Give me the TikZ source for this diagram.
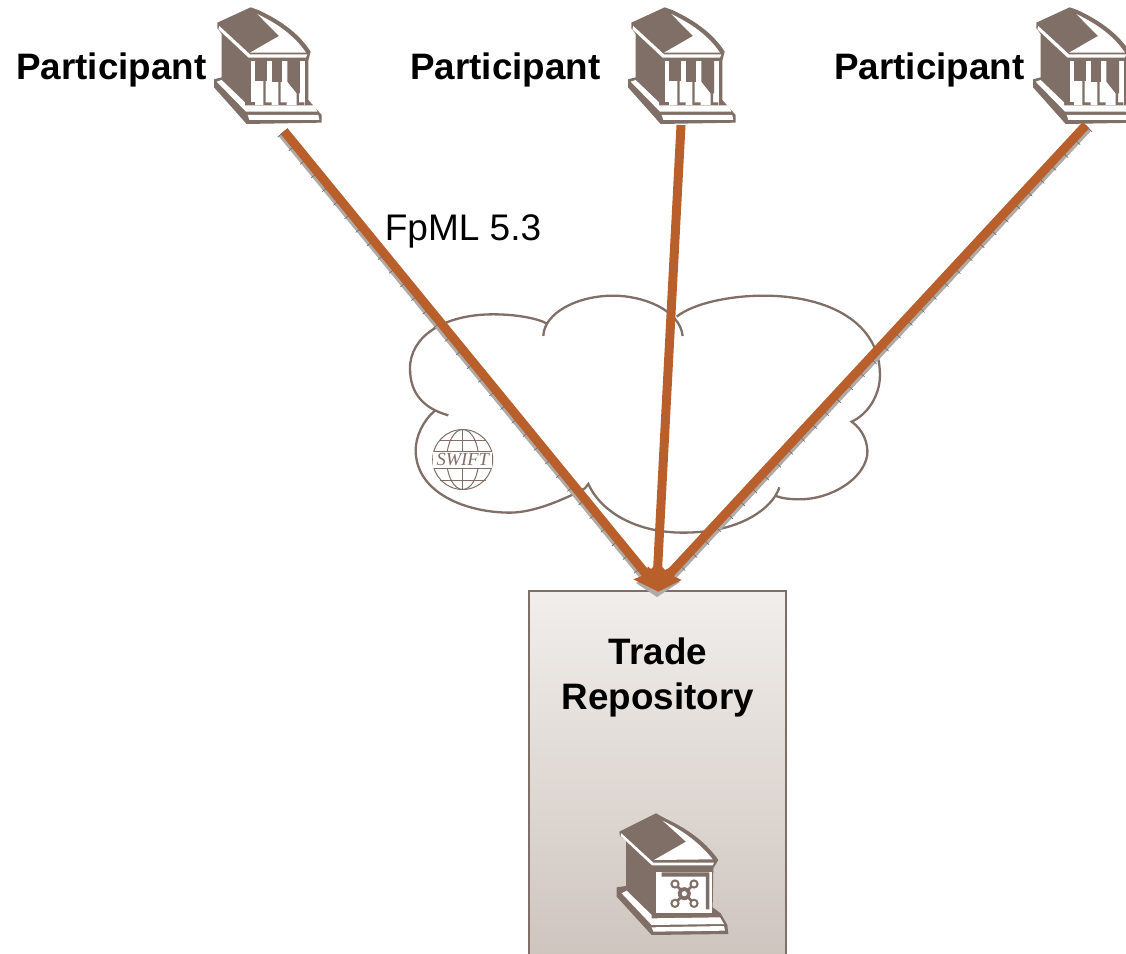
\documentclass[tikz,border=0pt]{standalone}
\usepackage{fontspec}
\usetikzlibrary{calc}
\setmainfont{Liberation Sans}
\newfontfamily\swiftfont{Liberation Serif}
\definecolor{brn}{HTML}{7F6F66}
\definecolor{org}{HTML}{B85F2C}
\definecolor{shd}{HTML}{B0AAA6}
\definecolor{boxtop}{HTML}{F1EEEB}
\definecolor{boxbot}{HTML}{CEC4BE}
\tikzset{
  lbl/.style={font=\fontsize{36.8}{44}\selectfont\bfseries,inner sep=0pt,text=black,align=center},
  lblr/.style={font=\fontsize{37}{44}\selectfont,inner sep=0pt,text=black},
  cloudline/.style={brn,line width=2.3pt},
  logoline/.style={brn,line width=1pt},
  bank/.pic={
    \begin{scope}[x=0.3333pt,y=-0.3333pt]
    \fill[brn] (52,68) -- (152,22) -- (175,30) .. controls (250,65) and (300,105) .. (332,155) -- (325,182) -- (325,300) -- (365,345) -- (365,368) -- (140,372) -- (42,262) -- (42,238) -- (65,232) -- (65,102) -- (52,85) -- cycle;
    \fill[white] (172,42) .. controls (240,75) and (285,110) .. (318,158) -- (150,158) -- (237,108) -- cycle;
    \fill[white] (58,78) -- (150,163) -- (322,163) -- (318,173) -- (146,173) -- (55,88) -- cycle;
    % column bay
    \fill[white] (153,182) -- (315,182) -- (315,315) -- (153,315) -- cycle;
    \fill[brn] (165,180) -- (200,180) -- (200,242) -- (165,242) -- cycle;
    \fill[brn] (215,180) -- (247,180) -- (247,245) -- (215,245) -- cycle;
    \fill[brn] (262,180) -- (300,180) -- (300,280) -- (290,280) -- (262,245) -- cycle;
    \fill[brn] (190,242) rectangle (197,310) (190,307) rectangle (215,316);
    \fill[brn] (235,245) rectangle (242,310) (235,307) rectangle (260,316);
    \fill[brn] (290,275) rectangle (297,310) (290,307) rectangle (313,316);
    \fill[brn] (135,307) rectangle (165,316);
    % base bands
    \fill[white] (135,316) -- (345,316) -- (352,335) -- (138,335) -- (50,245) -- (65,240) -- (135,307) -- cycle;
    \fill[white] (143,345) -- (355,345) -- (358,360) -- (148,360) -- cycle;
    \end{scope}
  },
}
\begin{document}
\begin{tikzpicture}[x=1pt,y=-1pt,line cap=butt]
\useasboundingbox (0,0) rectangle (1126,953);
\begin{scope}
\clip (0,0) rectangle (1126,953);
% icons
\pic at (200,0) {bank};
\pic at (614,0) {bank};
\pic at (1019,0) {bank};
% labels
\node[lbl,anchor=base] (p1) at (111.5,79) {Participant};
\node[lbl,anchor=base] (p2) at (505.5,79) {Participant};
\node[lbl,anchor=base] (p3) at (929.5,79) {Participant};
\node[lblr,anchor=base] (fpml) at (463,240) {FpML 5.3};
% repository
\shade[top color=boxtop,bottom color=boxbot,draw=brn,line width=1.6pt] (529,591) rectangle (786,965);
\node[lbl,anchor=base] (tr1) at (658,664) {Trade};
\node[lbl,anchor=base] (tr2) at (658,709) {Repository};
% safe
\begin{scope}[shift={(600,800)},x=0.3333pt,y=-0.3333pt]
\fill[brn] (58,95) -- (168,40) -- (195,55) .. controls (270,90) and (320,130) .. (355,180) -- (340,205) -- (338,322) -- (362,340) -- (382,375) -- (385,402) -- (155,405) -- (50,290) -- (50,262) -- (78,258) -- (78,122) -- (60,108) -- cycle;
\fill[white] (188,62) .. controls (250,92) and (300,130) .. (338,178) -- (162,180) -- (258,125) -- cycle;
\fill[white] (64,100) -- (160,188) -- (342,188) -- (338,196) -- (156,196) -- (62,108) -- cycle;
\fill[white] (168,216) -- (335,216) -- (335,340) -- (168,340) -- cycle;
\fill[brn] (185,217) -- (328,217) -- (328,328) -- (318,328) -- (318,230) -- (185,230) -- cycle;
\fill[white] (155,345) -- (155,355) -- (360,352) -- (372,372) -- (155,375) -- (65,280) -- (80,272) -- cycle;
\fill[white] (155,382) -- (372,378) -- (375,392) -- (160,395) -- cycle;
\draw[brn,line width=2.6pt] (225,252) -- (282,310) (282,252) -- (225,310);
\foreach \cx/\cy in {225/252,282/252,225/310,282/310}{
  \fill[white,draw=brn,line width=2pt] (\cx,\cy) circle (3.6pt);
}
\fill[brn] (253,281) circle (6.5pt);
\fill[white] (253,281) circle (2.6pt);
\end{scope}
% cloud
\begin{scope}[shift={(400,280)},x=0.3333pt,y=-0.3333pt]
\draw[cloudline,line join=round]
 (145,406) .. controls (70,385) and (30,340) .. (30,265)
 .. controls (30,170) and (130,103) .. (280,103)
 .. controls (350,103) and (410,115) .. (440,130);
\draw[cloudline] (430,168) .. controls (432,100) and (530,47) .. (640,47)
 .. controls (730,47) and (840,90) .. (848,168);
\draw[cloudline,line join=miter] (830,110) .. controls (880,70) and (990,47) .. (1090,47)
 .. controls (1290,47) and (1440,130) .. (1440,285)
 .. controls (1440,350) and (1400,405) .. (1355,425)
 .. controls (1390,450) and (1405,490) .. (1402,525)
 .. controls (1390,600) and (1290,658) .. (1200,658)
 .. controls (1170,658) and (1145,655) .. (1128,648);
\draw[cloudline] (1138,622) .. controls (1125,670) and (1040,758) .. (850,758)
 .. controls (700,758) and (600,690) .. (565,612)
 -- (555,625) .. controls (490,660) and (400,698) .. (330,698)
 .. controls (200,698) and (47,640) .. (47,510)
 .. controls (47,470) and (70,420) .. (105,392);
\end{scope}
% SWIFT logo
\coordinate (sw) at (462.7,459.5);
\begin{scope}[shift={(sw)}]
\draw[logoline] (0,0) circle (30);
\draw[logoline] (0,-30) -- (0,30);
\draw[logoline] (0,0) ellipse (16 and 30);
\draw[logoline] (-23,-19.5) -- (23,-19.5) (-23,20.5) -- (23,20.5);
\fill[white] (-29.5,-8) rectangle (29.5,8);
\draw[logoline] (-28.5,-8.5) -- (28.5,-8.5) (-28.5,8.5) -- (28.5,8.5);
\node[inner sep=0pt,text=brn,font=\swiftfont\itshape\fontsize{18.5}{18.5}\selectfont] (swt) at (0,0) {SWIFT};
\end{scope}
% connector anchors
\coordinate (a1) at (284,131);
\coordinate (a2) at (681,125);
\coordinate (a3) at (1086,125);
\coordinate (t1) at (651,580);
\coordinate (t2) at (657,580);
\coordinate (t3) at (664,580);
% shadows with tick marks
\draw[shd,line width=9pt] ($(a1)+(-2,2.2)$) -- ($(t1)+(-2,2.2)$);
\draw[shd,line width=9pt] ($(a3)+(2,2.5)$) -- ($(t3)+(2,2.5)$);
\draw[black!60,line width=9pt,dash pattern=on 0.6pt off 17pt] ($(a1)+(-3,3)$) -- ($(t1)+(-3,3)$);
\draw[black!60,line width=9pt,dash pattern=on 0.6pt off 17pt] ($(a3)+(3,3.5)$) -- ($(t3)+(3,3.5)$);
\fill[shd] (636,583) -- (657,597) -- (680,582) -- (660,570) -- cycle;
% lines
\draw[org,line width=9pt] (a1) -- (t1);
\draw[org,line width=9pt] (a2) -- (t2);
\draw[org,line width=9pt] (a3) -- (t3);
% arrow head
\fill[org] (633.3,579.3) -- (642,576) -- (641,571) -- (646,572) -- (648,566.5) -- (651,569) -- (655,565) -- (658,569) -- (662,566.5) -- (665,570) -- (669,568) -- (670,573) -- (675,572) -- (673,576) -- (681.7,580) -- (658.3,591.7) -- cycle;
\end{scope}
\end{tikzpicture}
\end{document}
